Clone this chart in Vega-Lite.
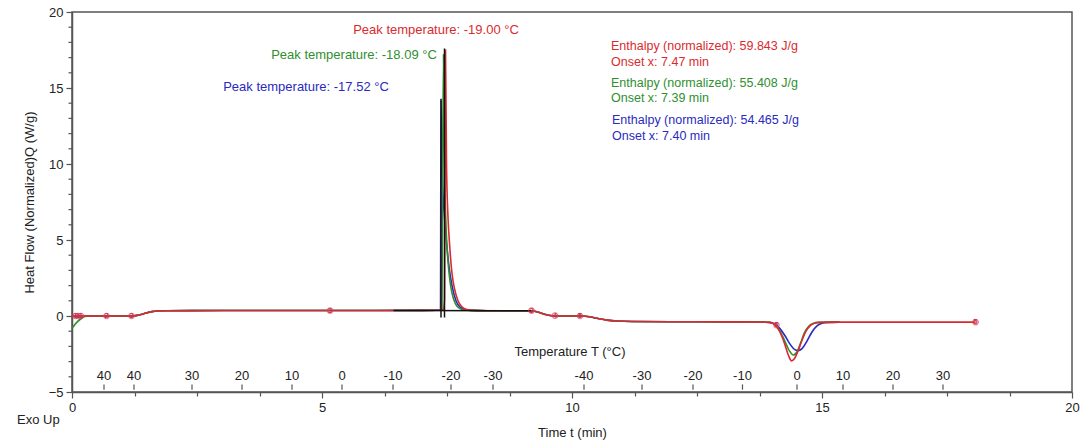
{
  "$schema": "https://vega.github.io/schema/vega-lite/v6.json",
  "width": 1000,
  "height": 380,
  "autosize": {"type": "none"},
  "padding": {"left": 72, "top": 12, "right": 12, "bottom": 55},
  "background": "white",
  "config": {
    "font": "Liberation Sans",
    "view": {"stroke": "#555", "strokeWidth": 1.5},
    "axis": {
      "domainColor": "#555",
      "domainWidth": 1.5,
      "tickColor": "#555",
      "tickWidth": 1.2,
      "grid": false,
      "labelFontSize": 13,
      "labelColor": "#222",
      "labelOverlap": false,
      "labelFlush": false,
      "titleFontSize": 13,
      "titleFontWeight": "normal",
      "titleColor": "#222"
    }
  },
  "datasets": {
    "curves": [
      {"s": "blue", "t": 0, "v": 0}, {"s": "blue", "t": 0.1, "v": 0}, {"s": "blue", "t": 0.2, "v": 0},
      {"s": "blue", "t": 0.35, "v": 0}, {"s": "blue", "t": 0.7, "v": 0}, {"s": "blue", "t": 1.2, "v": 0},
      {"s": "blue", "t": 1.3, "v": 0.04}, {"s": "blue", "t": 1.4, "v": 0.12}, {"s": "blue", "t": 1.5, "v": 0.22},
      {"s": "blue", "t": 1.6, "v": 0.29}, {"s": "blue", "t": 1.7, "v": 0.33}, {"s": "blue", "t": 1.9, "v": 0.35},
      {"s": "blue", "t": 3, "v": 0.36}, {"s": "blue", "t": 5, "v": 0.36}, {"s": "blue", "t": 7, "v": 0.37},
      {"s": "blue", "t": 7.3, "v": 0.38}, {"s": "blue", "t": 7.37, "v": 0.4}, {"s": "blue", "t": 7.38, "v": 14.2},
      {"s": "blue", "t": 7.41, "v": 9}, {"s": "blue", "t": 7.45, "v": 6.5}, {"s": "blue", "t": 7.5, "v": 4.5},
      {"s": "blue", "t": 7.55, "v": 3.0}, {"s": "blue", "t": 7.6, "v": 2.0}, {"s": "blue", "t": 7.68, "v": 1.0},
      {"s": "blue", "t": 7.77, "v": 0.55}, {"s": "blue", "t": 7.88, "v": 0.4}, {"s": "blue", "t": 8.0, "v": 0.37},
      {"s": "blue", "t": 8.3, "v": 0.35}, {"s": "blue", "t": 9.2, "v": 0.35}, {"s": "blue", "t": 9.3, "v": 0.28},
      {"s": "blue", "t": 9.45, "v": 0.12}, {"s": "blue", "t": 9.6, "v": 0.02}, {"s": "blue", "t": 9.7, "v": 0},
      {"s": "blue", "t": 10.2, "v": 0}, {"s": "blue", "t": 10.35, "v": -0.05}, {"s": "blue", "t": 10.5, "v": -0.15},
      {"s": "blue", "t": 10.7, "v": -0.27}, {"s": "blue", "t": 10.9, "v": -0.33}, {"s": "blue", "t": 11.2, "v": -0.36},
      {"s": "blue", "t": 12.5, "v": -0.38}, {"s": "blue", "t": 13.8, "v": -0.39}, {"s": "blue", "t": 13.95, "v": -0.42},
      {"s": "blue", "t": 14.05, "v": -0.52}, {"s": "blue", "t": 14.15, "v": -0.8}, {"s": "blue", "t": 14.25, "v": -1.25},
      {"s": "blue", "t": 14.35, "v": -1.8}, {"s": "blue", "t": 14.45, "v": -2.2}, {"s": "blue", "t": 14.52, "v": -2.28},
      {"s": "blue", "t": 14.6, "v": -2.15}, {"s": "blue", "t": 14.7, "v": -1.65}, {"s": "blue", "t": 14.8, "v": -1.05},
      {"s": "blue", "t": 14.9, "v": -0.65}, {"s": "blue", "t": 15.0, "v": -0.48}, {"s": "blue", "t": 15.1, "v": -0.42},
      {"s": "blue", "t": 15.35, "v": -0.4},

      {"s": "green", "t": 0, "v": -0.8}, {"s": "green", "t": 0.05, "v": -0.6}, {"s": "green", "t": 0.1, "v": -0.4},
      {"s": "green", "t": 0.18, "v": -0.18}, {"s": "green", "t": 0.26, "v": -0.03},
      {"s": "green", "t": 0.35, "v": 0}, {"s": "green", "t": 0.7, "v": 0}, {"s": "green", "t": 1.2, "v": 0},
      {"s": "green", "t": 1.3, "v": 0.04}, {"s": "green", "t": 1.4, "v": 0.12}, {"s": "green", "t": 1.5, "v": 0.22},
      {"s": "green", "t": 1.6, "v": 0.29}, {"s": "green", "t": 1.7, "v": 0.33}, {"s": "green", "t": 1.9, "v": 0.35},
      {"s": "green", "t": 3, "v": 0.36}, {"s": "green", "t": 5, "v": 0.36}, {"s": "green", "t": 7, "v": 0.37},
      {"s": "green", "t": 7.3, "v": 0.38}, {"s": "green", "t": 7.4, "v": 0.4}, {"s": "green", "t": 7.41, "v": 8},
      {"s": "green", "t": 7.43, "v": 17.2}, {"s": "green", "t": 7.45, "v": 10}, {"s": "green", "t": 7.48, "v": 6},
      {"s": "green", "t": 7.52, "v": 3.6}, {"s": "green", "t": 7.56, "v": 2.3}, {"s": "green", "t": 7.6, "v": 1.5},
      {"s": "green", "t": 7.67, "v": 0.8}, {"s": "green", "t": 7.75, "v": 0.5}, {"s": "green", "t": 7.85, "v": 0.4},
      {"s": "green", "t": 8.0, "v": 0.37}, {"s": "green", "t": 8.3, "v": 0.35}, {"s": "green", "t": 9.2, "v": 0.35},
      {"s": "green", "t": 9.3, "v": 0.28}, {"s": "green", "t": 9.45, "v": 0.12}, {"s": "green", "t": 9.6, "v": 0.02},
      {"s": "green", "t": 9.7, "v": 0}, {"s": "green", "t": 10.2, "v": 0}, {"s": "green", "t": 10.35, "v": -0.05},
      {"s": "green", "t": 10.5, "v": -0.15}, {"s": "green", "t": 10.7, "v": -0.27}, {"s": "green", "t": 10.9, "v": -0.33},
      {"s": "green", "t": 11.2, "v": -0.36}, {"s": "green", "t": 12.5, "v": -0.38}, {"s": "green", "t": 13.8, "v": -0.39},
      {"s": "green", "t": 13.95, "v": -0.42}, {"s": "green", "t": 14.05, "v": -0.55}, {"s": "green", "t": 14.15, "v": -0.95},
      {"s": "green", "t": 14.25, "v": -1.6}, {"s": "green", "t": 14.35, "v": -2.3}, {"s": "green", "t": 14.43, "v": -2.57},
      {"s": "green", "t": 14.5, "v": -2.35}, {"s": "green", "t": 14.57, "v": -1.8}, {"s": "green", "t": 14.65, "v": -1.1},
      {"s": "green", "t": 14.73, "v": -0.7}, {"s": "green", "t": 14.82, "v": -0.5}, {"s": "green", "t": 14.95, "v": -0.42},
      {"s": "green", "t": 15.35, "v": -0.4},

      {"s": "red", "t": 0, "v": 0}, {"s": "red", "t": 0.1, "v": 0}, {"s": "red", "t": 0.2, "v": 0},
      {"s": "red", "t": 0.35, "v": 0}, {"s": "red", "t": 0.7, "v": 0}, {"s": "red", "t": 1.2, "v": 0},
      {"s": "red", "t": 1.3, "v": 0.04}, {"s": "red", "t": 1.4, "v": 0.12}, {"s": "red", "t": 1.5, "v": 0.22},
      {"s": "red", "t": 1.6, "v": 0.29}, {"s": "red", "t": 1.7, "v": 0.33}, {"s": "red", "t": 1.9, "v": 0.35},
      {"s": "red", "t": 3, "v": 0.36}, {"s": "red", "t": 5, "v": 0.36}, {"s": "red", "t": 7, "v": 0.37},
      {"s": "red", "t": 7.3, "v": 0.38}, {"s": "red", "t": 7.42, "v": 0.4}, {"s": "red", "t": 7.45, "v": 1},
      {"s": "red", "t": 7.47, "v": 17.5}, {"s": "red", "t": 7.49, "v": 10}, {"s": "red", "t": 7.52, "v": 6.5},
      {"s": "red", "t": 7.55, "v": 4.8}, {"s": "red", "t": 7.6, "v": 2.8}, {"s": "red", "t": 7.65, "v": 1.8},
      {"s": "red", "t": 7.72, "v": 1.0}, {"s": "red", "t": 7.8, "v": 0.6}, {"s": "red", "t": 7.9, "v": 0.42},
      {"s": "red", "t": 8.0, "v": 0.37}, {"s": "red", "t": 8.3, "v": 0.35}, {"s": "red", "t": 9.2, "v": 0.35},
      {"s": "red", "t": 9.3, "v": 0.28}, {"s": "red", "t": 9.45, "v": 0.12}, {"s": "red", "t": 9.6, "v": 0.02},
      {"s": "red", "t": 9.7, "v": 0}, {"s": "red", "t": 10.2, "v": 0}, {"s": "red", "t": 10.35, "v": -0.05},
      {"s": "red", "t": 10.5, "v": -0.15}, {"s": "red", "t": 10.7, "v": -0.27}, {"s": "red", "t": 10.9, "v": -0.33},
      {"s": "red", "t": 11.2, "v": -0.36}, {"s": "red", "t": 12.5, "v": -0.38}, {"s": "red", "t": 13.8, "v": -0.39},
      {"s": "red", "t": 13.95, "v": -0.42}, {"s": "red", "t": 14.05, "v": -0.55}, {"s": "red", "t": 14.15, "v": -1.0},
      {"s": "red", "t": 14.25, "v": -1.8}, {"s": "red", "t": 14.33, "v": -2.6}, {"s": "red", "t": 14.39, "v": -2.95},
      {"s": "red", "t": 14.45, "v": -2.8}, {"s": "red", "t": 14.52, "v": -2.3}, {"s": "red", "t": 14.6, "v": -1.6},
      {"s": "red", "t": 14.68, "v": -1.0}, {"s": "red", "t": 14.76, "v": -0.65}, {"s": "red", "t": 14.85, "v": -0.48},
      {"s": "red", "t": 14.95, "v": -0.42}, {"s": "red", "t": 15.2, "v": -0.4}, {"s": "red", "t": 18.07, "v": -0.4}
    ],
    "baseline": [{"t": 6.43, "v": 0.37}, {"t": 9.19, "v": 0.35}],
    "spikes": [{"t": 7.38, "v0": -0.1, "v1": 14.3}, {"t": 7.45, "v0": -0.1, "v1": 17.6}],
    "markers": [
      {"t": 0.07, "v": 0, "n": "1"}, {"t": 0.12, "v": 0, "n": "1"}, {"t": 0.18, "v": 0, "n": "1"},
      {"t": 0.69, "v": 0, "n": "2"}, {"t": 1.19, "v": 0, "n": "3"}, {"t": 5.16, "v": 0.36, "n": "3"},
      {"t": 9.19, "v": 0.35, "n": "3"}, {"t": 9.66, "v": 0.02, "n": "4"}, {"t": 10.16, "v": 0, "n": "5"},
      {"t": 14.09, "v": -0.6, "n": "5"}, {"t": 18.07, "v": -0.4, "n": "5"}
    ],
    "peaks": [
      {"s": "red", "t": 7.28, "v": 18.8, "text": "Peak temperature: -19.00 °C"},
      {"s": "green", "t": 5.64, "v": 17.2, "text": "Peak temperature: -18.09 °C"},
      {"s": "blue", "t": 4.68, "v": 15.07, "text": "Peak temperature: -17.52 °C"}
    ],
    "enthalpy": [
      {"s": "red", "t": 10.78, "v": 17.76, "text": "Enthalpy (normalized): 59.843 J/g"},
      {"s": "red", "t": 10.78, "v": 16.71, "text": "Onset x: 7.47 min"},
      {"s": "green", "t": 10.78, "v": 15.33, "text": "Enthalpy (normalized): 55.408 J/g"},
      {"s": "green", "t": 10.78, "v": 14.34, "text": "Onset x: 7.39 min"},
      {"s": "blue", "t": 10.8, "v": 12.89, "text": "Enthalpy (normalized): 54.465 J/g"},
      {"s": "blue", "t": 10.8, "v": 11.84, "text": "Onset x: 7.40 min"}
    ],
    "temps": [
      {"t": 0.64, "l": "40"}, {"t": 1.24, "l": "40"}, {"t": 2.4, "l": "30"}, {"t": 3.4, "l": "20"},
      {"t": 4.4, "l": "10"}, {"t": 5.4, "l": "0"}, {"t": 6.42, "l": "-10"}, {"t": 7.58, "l": "-20"},
      {"t": 8.42, "l": "-30"}, {"t": 10.24, "l": "-40"}, {"t": 11.4, "l": "-30"}, {"t": 12.42, "l": "-20"},
      {"t": 13.41, "l": "-10"}, {"t": 14.5, "l": "0"}, {"t": 15.42, "l": "10"}, {"t": 16.42, "l": "20"},
      {"t": 17.42, "l": "30"}
    ],
    "yminor": [
      {"v": -4}, {"v": -3}, {"v": -2}, {"v": -1}, {"v": 1}, {"v": 2}, {"v": 3}, {"v": 4},
      {"v": 6}, {"v": 7}, {"v": 8}, {"v": 9}, {"v": 11}, {"v": 12}, {"v": 13}, {"v": 14},
      {"v": 16}, {"v": 17}, {"v": 18}, {"v": 19}
    ]
  },
  "layer": [
    {
      "data": {"name": "curves"},
      "mark": {"type": "line", "strokeWidth": 1.6, "interpolate": "monotone"},
      "encoding": {
        "x": {
          "field": "t", "type": "quantitative",
          "scale": {"domain": [0, 20], "nice": false, "zero": false},
          "axis": {
            "title": "Time t (min)",
            "values": [0, 1.25, 2.5, 3.75, 5, 6.25, 7.5, 8.75, 10, 11.25, 12.5, 13.75, 15, 16.25, 17.5, 18.75, 20],
            "labelExpr": "datum.value % 5 === 0 ? datum.label : ''",
            "tickSize": {"condition": {"test": "datum.value % 5 === 0", "value": 6}, "value": 4},
            "labelPadding": 3,
            "titlePadding": 12
          }
        },
        "y": {
          "field": "v", "type": "quantitative",
          "scale": {"domain": [-5, 20], "nice": false, "zero": false},
          "axis": {
            "title": "Heat Flow (Normalized)Q (W/g)",
            "values": [-5, 0, 5, 10, 15, 20],
            "tickSize": 6,
            "labelPadding": 3,
            "titlePadding": 12
          }
        },
        "color": {
          "field": "s", "type": "nominal", "legend": null,
          "scale": {"domain": ["red", "green", "blue"], "range": ["#d92b2f", "#2f8f2f", "#2a2ac0"]}
        },
        "detail": {"field": "s"}
      }
    },
    {
      "data": {"name": "yminor"},
      "mark": {"type": "rule", "color": "#555", "strokeWidth": 1.2},
      "encoding": {
        "x": {"datum": -0.07, "type": "quantitative"},
        "x2": {"datum": 0},
        "y": {"field": "v", "type": "quantitative"}
      }
    },
    {
      "data": {"name": "baseline"},
      "mark": {"type": "line", "color": "#111", "strokeWidth": 1.5},
      "encoding": {
        "x": {"field": "t", "type": "quantitative"},
        "y": {"field": "v", "type": "quantitative"}
      }
    },
    {
      "data": {"name": "spikes"},
      "mark": {"type": "rule", "color": "#111", "strokeWidth": 1.5},
      "encoding": {
        "x": {"field": "t", "type": "quantitative"},
        "y": {"field": "v0", "type": "quantitative"},
        "y2": {"field": "v1"}
      }
    },
    {
      "data": {"name": "markers"},
      "mark": {"type": "point", "shape": "circle", "size": 30, "filled": false, "color": "#d8405a", "strokeWidth": 1.2},
      "encoding": {
        "x": {"field": "t", "type": "quantitative"},
        "y": {"field": "v", "type": "quantitative"}
      }
    },
    {
      "data": {"name": "markers"},
      "mark": {"type": "text", "fontSize": 7, "fontWeight": "bold", "color": "#c8304a"},
      "encoding": {
        "x": {"field": "t", "type": "quantitative"},
        "y": {"field": "v", "type": "quantitative"},
        "text": {"field": "n"}
      }
    },
    {
      "data": {"name": "peaks"},
      "mark": {"type": "text", "fontSize": 13, "align": "center", "baseline": "middle"},
      "encoding": {
        "x": {"field": "t", "type": "quantitative"},
        "y": {"field": "v", "type": "quantitative"},
        "text": {"field": "text"},
        "color": {"field": "s", "type": "nominal", "legend": null}
      }
    },
    {
      "data": {"name": "enthalpy"},
      "mark": {"type": "text", "fontSize": 12.5, "align": "left", "baseline": "middle"},
      "encoding": {
        "x": {"field": "t", "type": "quantitative"},
        "y": {"field": "v", "type": "quantitative"},
        "text": {"field": "text"},
        "color": {"field": "s", "type": "nominal", "legend": null}
      }
    },
    {
      "data": {"name": "temps"},
      "mark": {"type": "text", "fontSize": 13, "color": "#222", "align": "center", "baseline": "middle"},
      "encoding": {
        "x": {"field": "t", "type": "quantitative"},
        "y": {"datum": -3.95, "type": "quantitative"},
        "text": {"field": "l"}
      }
    },
    {
      "data": {"name": "temps"},
      "mark": {"type": "rule", "color": "#555", "strokeWidth": 1.2},
      "encoding": {
        "x": {"field": "t", "type": "quantitative"},
        "y": {"datum": -4.5, "type": "quantitative"},
        "y2": {"datum": -4.85}
      }
    },
    {
      "data": {"values": [{"label": "Temperature T (°C)"}]},
      "mark": {"type": "text", "fontSize": 13, "color": "#222", "align": "center", "baseline": "middle"},
      "encoding": {
        "x": {"datum": 9.96, "type": "quantitative"},
        "y": {"datum": -2.37, "type": "quantitative"},
        "text": {"field": "label"}
      }
    },
    {
      "data": {"values": [{"label": "Exo Up"}]},
      "mark": {"type": "text", "fontSize": 13, "color": "#222", "align": "left", "baseline": "middle"},
      "encoding": {
        "x": {"datum": -1.1, "type": "quantitative"},
        "y": {"datum": -6.85, "type": "quantitative"},
        "text": {"field": "label"}
      }
    }
  ]
}
